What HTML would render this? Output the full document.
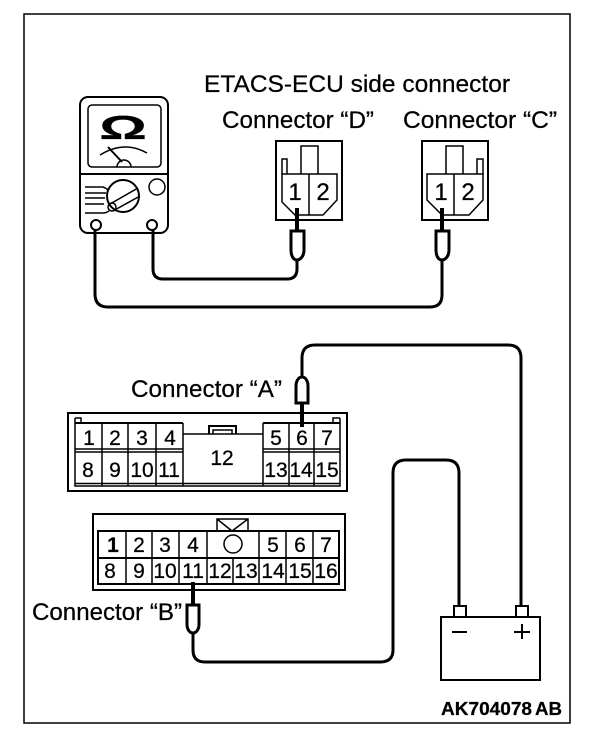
<!DOCTYPE html>
<html><head><meta charset="utf-8"><style>
html,body{margin:0;padding:0;background:#fff}
svg{display:block}
text{font-family:"Liberation Sans",sans-serif;fill:#000;stroke:#000;stroke-width:.25}
.l{font-size:24px}
.n{font-size:21px;text-anchor:middle}
.b{font-size:24px}
.s{fill:none;stroke:#000;stroke-width:2}
.t{fill:none;stroke:#000;stroke-width:1.5}
.w{fill:none;stroke:#000;stroke-width:3}
.p{fill:#fff;stroke:#000;stroke-width:3}
</style></head><body>
<svg width="608" height="748" viewBox="0 0 608 748" xmlns="http://www.w3.org/2000/svg">
<rect x="24" y="14" width="546" height="709" class="t"/>

<!-- meter -->
<rect x="80" y="97" width="88" height="136" rx="8" class="s"/>
<rect x="88" y="105" width="73" height="62" rx="4" class="t"/>
<line x1="80" y1="174" x2="168" y2="174" class="s"/>
<text transform="translate(123 139) scale(1.8 1)" text-anchor="middle" font-size="33" font-weight="bold">Ω</text>
<path d="M100 155 Q124 140 147 153" class="t"/>
<line x1="108" y1="147" x2="122" y2="162" class="s"/>
<path d="M117 167 A7 7 0 0 1 131 167" class="t"/>
<circle cx="123" cy="196" r="16" class="s"/>
<path d="M110 204 L138 188 M113 211 L140 196" class="t"/>
<circle cx="112" cy="207" r="4" class="t" fill="#fff"/>
<path d="M85 187 H103 Q106 188 108 190 M85 193 H106 M85 198 H105 M85 204 H104 M85 213 H103 Q106 213 109 211" class="t"/>
<circle cx="157" cy="187" r="8" class="t"/>
<circle cx="96" cy="225" r="5" class="s"/>
<circle cx="152" cy="225" r="5" class="s"/>

<!-- meter wires -->
<path d="M95 230 V294 Q95 307 108 307 H430 Q442 307 442 295 V260" class="w"/>
<path d="M153 230 V269 Q153 279 163 279 H287 Q297 279 297 269 V258" class="w"/>

<!-- labels -->
<text x="204" y="92" class="l" textLength="306" lengthAdjust="spacingAndGlyphs">ETACS-ECU side connector</text>
<text x="222" y="128" class="l" textLength="152" lengthAdjust="spacingAndGlyphs">Connector “D”</text>
<text x="403" y="128" class="l" textLength="154" lengthAdjust="spacingAndGlyphs">Connector “C”</text>
<text x="131" y="397" class="l" textLength="151" lengthAdjust="spacingAndGlyphs">Connector “A”</text>
<text x="32" y="620" class="l" textLength="150" lengthAdjust="spacingAndGlyphs">Connector “B”</text>

<!-- connector D -->
<rect x="276" y="141" width="66" height="79" class="s"/>
<path d="M301 174 V146 H318 V174" class="t"/>
<path d="M282 174 V159 H287 V174" class="t"/>
<path d="M282 174 H337 V200 L323 215 H295 L282 202 Z" class="t"/>
<line x1="309" y1="174" x2="309" y2="215" class="t"/>
<text x="295" y="200" class="n b">1</text>
<text x="323" y="200" class="n b">2</text>
<line x1="297" y1="208" x2="297" y2="232" stroke="#000" stroke-width="4"/>
<path d="M291 231 H304 V250 Q304 256 300 259 Q297 261 294 259 Q291 256 291 250 Z" class="p"/>

<!-- connector C -->
<rect x="422" y="141" width="66" height="79" class="s"/>
<path d="M446 174 V146 H463 V174" class="t"/>
<path d="M477 174 V159 H483 V174" class="t"/>
<path d="M427 174 H483 V200 L469 215 H442 L427 200 Z" class="t"/>
<line x1="454" y1="174" x2="454" y2="215" class="t"/>
<text x="441" y="200" class="n b">1</text>
<text x="468" y="200" class="n b">2</text>
<line x1="442" y1="208" x2="442" y2="232" stroke="#000" stroke-width="4"/>
<path d="M436 231 H449 V250 Q449 256 445 259 Q442 261 439 259 Q436 256 436 250 Z" class="p"/>

<!-- connector A -->
<rect x="68" y="413" width="279" height="78" class="s"/>
<path d="M75 418 H81 V423 M333 423 V418 H340" class="t"/>
<path d="M75 418 V486 H340 V418" class="t"/>
<path d="M75 423 H183 M263 423 H340" class="s"/>
<path d="M75 449 H183 M263 449 H340 M75 452 H183 M263 452 H340" class="t"/>
<path d="M75 483.500 H340" class="t"/>
<path d="M102 423 V486 M128 423 V486 M156 423 V486 M183 423 V486 M263 423 V486 M289 423 V486 M314 423 V486" class="t"/>
<path d="M183 434 H263" class="t"/>
<path d="M209 434 V426 H236 V434" class="s"/>
<path d="M213 434 V430 H232 V434" class="t"/>
<text x="89" y="445" class="n">1</text><text x="115" y="445" class="n">2</text><text x="142" y="445" class="n">3</text><text x="170" y="445" class="n">4</text>
<text x="276" y="445" class="n">5</text><text x="302" y="445" class="n">6</text><text x="327" y="445" class="n">7</text>
<text x="88" y="477" class="n">8</text><text x="115" y="477" class="n">9</text><text x="142" y="477" class="n">10</text><text x="169" y="477" class="n">11</text>
<text x="222" y="465" class="n">12</text>
<text x="276" y="477" class="n">13</text><text x="301" y="477" class="n">14</text><text x="327" y="477" class="n">15</text>

<!-- connector A probe and wire -->
<path d="M302 378 V358 Q302 345 315 345 H508 Q521 345 521 358 V606" class="w"/>
<line x1="302" y1="402" x2="302" y2="427" stroke="#000" stroke-width="4"/>
<path d="M296 403 H308 V386 Q308 381 305 378 Q302 376 299 378 Q296 381 296 386 Z" class="p"/>

<!-- connector B -->
<rect x="93" y="514" width="252" height="76" class="s"/>
<rect x="98" y="531" width="241" height="53" class="s"/>
<path d="M98 558 H339" class="s"/>
<path d="M126 531 V584 M152 531 V584 M179 531 V584 M207 531 V584 M259 531 V584 M286 531 V584 M313 531 V584 M233 558 V584" class="t"/>
<path d="M217 531 V519 H248 V531 M217 519 L232 531 L248 519" class="t"/>
<circle cx="233" cy="544" r="9" class="t"/>
<text x="113" y="552" class="n" font-weight="bold">1</text><text x="139" y="552" class="n">2</text><text x="165" y="552" class="n">3</text><text x="193" y="552" class="n">4</text>
<text x="273" y="552" class="n">5</text><text x="300" y="552" class="n">6</text><text x="326" y="552" class="n">7</text>
<text x="110" y="578" class="n">8</text><text x="139" y="578" class="n">9</text><text x="165" y="578" class="n">10</text><text x="193" y="578" class="n">11</text><text x="220" y="578" class="n">12</text><text x="246" y="578" class="n">13</text><text x="273" y="578" class="n">14</text><text x="300" y="578" class="n">15</text><text x="326" y="578" class="n">16</text>

<!-- connector B probe and wire -->
<line x1="193" y1="582" x2="193" y2="606" stroke="#000" stroke-width="4"/>
<path d="M193 632 V650 Q193 662 205 662 H380 Q393 662 393 650 V473 Q393 460 406 460 H446 Q459 460 459 473 V606" class="w"/>
<path d="M187 605 H199 V625 Q199 629 196 632 Q193 634 190 632 Q187 629 187 625 Z" class="p"/>

<!-- battery -->
<rect x="441" y="617" width="99" height="63" class="s"/>
<rect x="454" y="606" width="12" height="11" class="s"/>
<rect x="516" y="606" width="12" height="11" class="s"/>
<line x1="452" y1="632" x2="467" y2="632" class="s"/>
<path d="M514 632 H530 M522 624 V639" class="s"/>

<text x="441" y="715" font-size="18" font-weight="bold" textLength="91" lengthAdjust="spacingAndGlyphs">AK704078</text>
<text x="535" y="715" font-size="18" font-weight="bold" textLength="27" lengthAdjust="spacingAndGlyphs">AB</text>
</svg>
</body></html>
